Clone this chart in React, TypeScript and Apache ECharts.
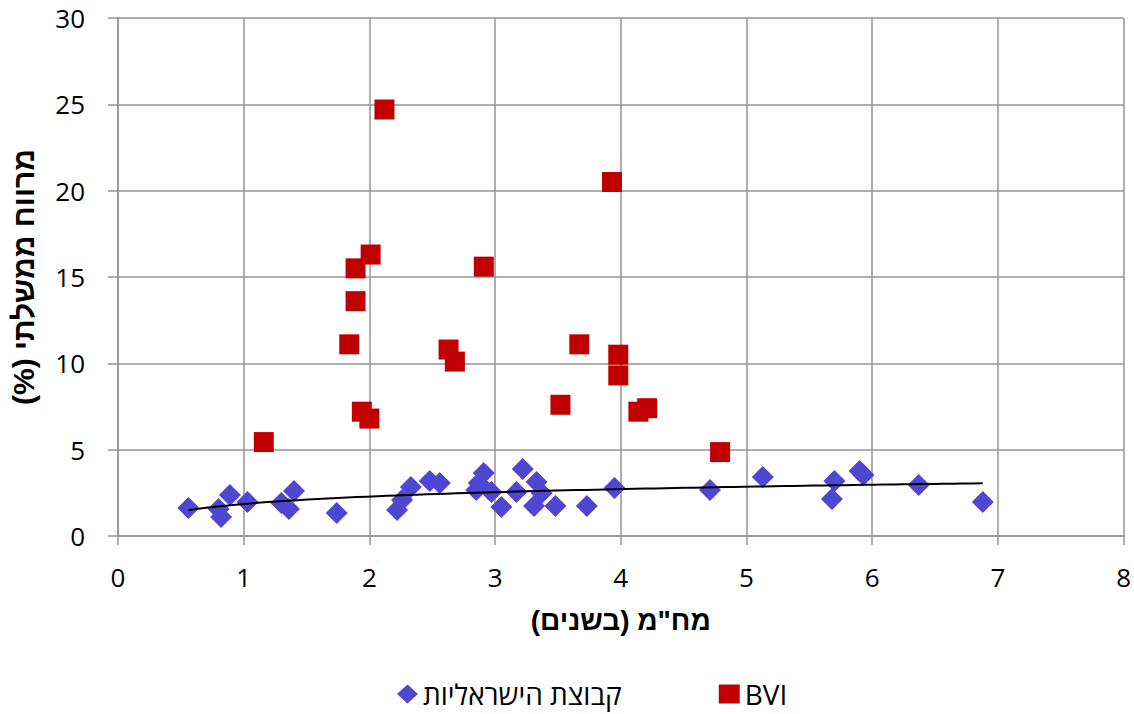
import React, { useEffect, useRef } from "react";
import * as echarts from "echarts";

const israeliX = [0.56, 0.80, 0.82, 0.89, 1.03, 1.30, 1.36, 1.40, 1.74, 2.22, 2.26, 2.33, 2.48, 2.56, 2.85, 2.87, 2.91, 2.97, 3.05, 3.17, 3.22, 3.33, 3.37, 3.31, 3.48, 3.73, 3.95, 4.71, 5.13, 5.68, 5.70, 5.90, 5.93, 6.37, 6.88];
const israeliY = [1.62, 1.56, 1.10, 2.37, 1.97, 1.91, 1.56, 2.61, 1.33, 1.51, 2.08, 2.84, 3.18, 3.07, 2.66, 3.07, 3.65, 2.55, 1.68, 2.55, 3.88, 3.13, 2.49, 1.74, 1.74, 1.74, 2.78, 2.66, 3.42, 2.14, 3.18, 3.76, 3.53, 2.95, 1.97];

const bviX = [1.16, 1.84, 1.89, 1.89, 2.01, 2.12, 1.94, 2.00, 2.63, 2.68, 2.91, 3.52, 3.67, 3.93, 3.98, 3.98, 4.14, 4.21, 4.79];
const bviY = [5.44, 11.1, 13.6, 15.5, 16.3, 24.7, 7.2, 6.8, 10.8, 10.1, 15.6, 7.6, 11.1, 20.5, 10.5, 9.3, 7.2, 7.4, 4.86];

const xTicks = [0, 1, 2, 3, 4, 5, 6, 7, 8];
const yTicks = [0, 5, 10, 15, 20, 25, 30];

const seriesNames = ["קבוצת הישראליות", "BVI"];
const xTitle = '(בשנים) מח"מ';
const yTitle = "מרווח ממשלתי (%)\u200F";

// logarithmic trendline fitted (least squares) to the Israeli group
function logTrend(xs: number[], ys: number[]) {
  const n = xs.length;
  const lx = xs.map((v) => Math.log(v));
  const mx = lx.reduce((a, b) => a + b, 0) / n;
  const my = ys.reduce((a, b) => a + b, 0) / n;
  let sxy = 0;
  let sxx = 0;
  for (let i = 0; i < n; i++) {
    sxy += (lx[i] - mx) * (ys[i] - my);
    sxx += (lx[i] - mx) * (lx[i] - mx);
  }
  const a = sxy / sxx;
  const b = my - a * mx;
  const lo = Math.min(...xs);
  const hi = Math.max(...xs);
  const pts: number[][] = [];
  const steps = 80;
  for (let i = 0; i <= steps; i++) {
    const x = lo + ((hi - lo) * i) / steps;
    pts.push([x, a * Math.log(x) + b]);
  }
  return pts;
}

const FONT = "'Open Sans', 'DejaVu Sans', sans-serif";
const HFONT = "'Liberation Sans', 'Open Sans', sans-serif";
const GRAY = "#959595";

export default function App() {
  const ref = useRef<HTMLDivElement>(null);
  useEffect(() => {
    if (!ref.current) return;
    const chart = echarts.init(ref.current, null, { renderer: "svg" });
    const israeli = israeliX.map((x, i) => [x, israeliY[i]]);
    const bvi = bviX.map((x, i) => [x, bviY[i]]);
    chart.setOption({
      animation: false,
      backgroundColor: "#fff",
      textStyle: { fontFamily: FONT },
      grid: { left: 118, right: 6, top: 18, bottom: 178, containLabel: false },
      legend: {
        data: [
          { name: seriesNames[0], icon: "diamond" },
          { name: seriesNames[1], icon: "rect" },
        ],
        top: 678,
        left: 397,
        itemWidth: 21,
        itemHeight: 19,
        itemGap: 97,
        itemTextGap: 6,
        padding: 0,
        textStyle: { fontSize: 28, lineHeight: 32, color: "#000", fontFamily: FONT },
      },
      xAxis: {
        type: "value",
        min: xTicks[0],
        max: xTicks[xTicks.length - 1],
        interval: 1,
        name: xTitle,
        nameLocation: "middle",
        nameGap: 70,
        nameTextStyle: { fontSize: 28, fontWeight: "bold", color: "#000", fontFamily: HFONT },
        axisLine: { show: true, lineStyle: { color: GRAY, width: 1.5 } },
        axisTick: { show: true, length: 9, lineStyle: { color: GRAY, width: 1.5 } },
        axisLabel: { fontSize: 26, color: "#000", margin: 28, fontFamily: FONT },
        splitLine: { show: true, lineStyle: { color: GRAY, width: 1.5 } },
      },
      yAxis: {
        type: "value",
        min: yTicks[0],
        max: yTicks[yTicks.length - 1],
        interval: 5,
        name: yTitle,
        nameLocation: "middle",
        nameRotate: 90,
        nameGap: 80,
        nameTextStyle: { fontSize: 30, fontWeight: "bold", color: "#000", fontFamily: HFONT },
        axisLine: { show: true, lineStyle: { color: GRAY, width: 1.5 } },
        axisTick: { show: true, length: 10, lineStyle: { color: GRAY, width: 1.5 } },
        axisLabel: { fontSize: 26, color: "#000", margin: 33, fontFamily: FONT },
        splitLine: { show: true, lineStyle: { color: GRAY, width: 1.5 } },
      },
      series: [
        {
          name: seriesNames[0],
          type: "scatter",
          symbol: "diamond",
          symbolSize: 22,
          data: israeli,
          itemStyle: { color: "#4F46D1", opacity: 1 },
          z: 2,
        },
        {
          name: seriesNames[1],
          type: "scatter",
          symbol: "rect",
          symbolSize: 20,
          data: bvi,
          itemStyle: { color: "#C00000", opacity: 1 },
          z: 2,
        },
        {
          name: "trend",
          type: "line",
          data: logTrend(israeliX, israeliY),
          showSymbol: false,
          symbol: "none",
          smooth: false,
          lineStyle: { color: "#000", width: 2 },
          z: 3,
          silent: true,
        },
      ],
    });
    return () => chart.dispose();
  }, []);
  return (
    <div
      ref={ref}
      style={{ position: "absolute", left: 0, top: 0, width: 1134, height: 714 }}
    />
  );
}
